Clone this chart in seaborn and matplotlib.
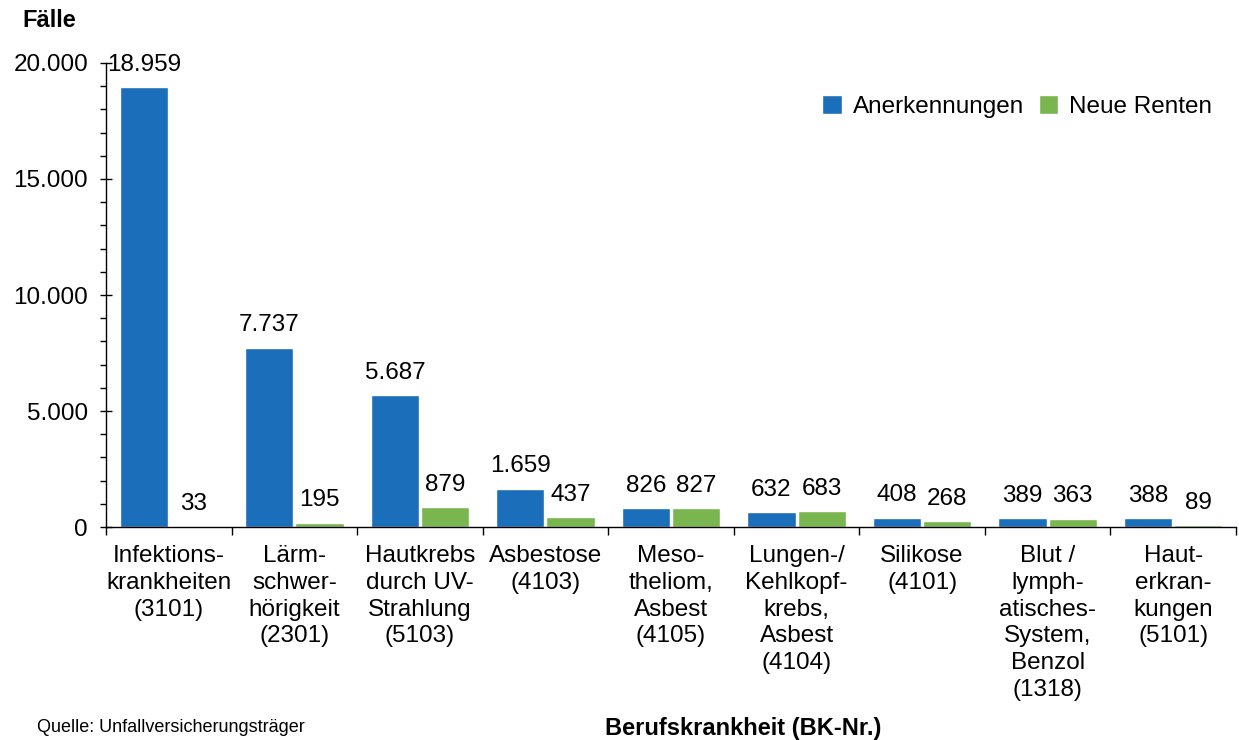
import pandas as pd
import numpy as np
import seaborn as sns
import matplotlib.pyplot as plt
from matplotlib.ticker import MultipleLocator, FixedLocator, FuncFormatter

CATEGORIES = [
    "Infektions-\nkrankheiten\n(3101)",
    "Lärm-\nschwer-\nhörigkeit\n(2301)",
    "Hautkrebs\ndurch UV-\nStrahlung\n(5103)",
    "Asbestose\n(4103)",
    "Meso-\ntheliom,\nAsbest\n(4105)",
    "Lungen-/\nKehlkopf-\nkrebs,\nAsbest\n(4104)",
    "Silikose\n(4101)",
    "Blut /\nlymph-\natisches-\nSystem,\nBenzol\n(1318)",
    "Haut-\nerkran-\nkungen\n(5101)",
]
ANERKENNUNGEN = [18959, 7737, 5687, 1659, 826, 632, 408, 389, 388]
NEUE_RENTEN = [33, 195, 879, 437, 827, 683, 268, 363, 89]
SERIES = ["Anerkennungen", "Neue Renten"]
COLORS = ["#1b6eb9", "#7ab650"]

FS = 17.5


def de_format(v):
    return f"{int(round(v)):,}".replace(",", ".")


def main():
    df = pd.DataFrame({
        "Kategorie": CATEGORIES * 2,
        "Serie": [SERIES[0]] * len(CATEGORIES) + [SERIES[1]] * len(CATEGORIES),
        "Fälle": ANERKENNUNGEN + NEUE_RENTEN,
    })

    sns.set_style("white")
    plt.rcParams["font.family"] = ["Liberation Sans", "DejaVu Sans"]
    for key in ["text.color", "axes.labelcolor", "xtick.color", "ytick.color"]:
        plt.rcParams[key] = "black"

    fig = plt.figure(figsize=(12.39, 7.40), dpi=100)
    ax = fig.add_axes([0.0856, 0.2878, 0.9976 - 0.0856, 0.9149 - 0.2878])

    sns.barplot(data=df, x="Kategorie", y="Fälle", hue="Serie",
                palette=COLORS, width=0.8, gap=0.04, saturation=1,
                ax=ax, errorbar=None)

    for cont in ax.containers:
        ax.bar_label(cont, labels=[de_format(b.get_height()) for b in cont],
                     padding=8, fontsize=FS)

    ax.set_xlim(-0.5, len(CATEGORIES) - 0.5)
    ax.set_ylim(0, 20000)
    ax.yaxis.set_major_locator(MultipleLocator(5000))
    ax.yaxis.set_minor_locator(MultipleLocator(1000))
    ax.yaxis.set_major_formatter(FuncFormatter(lambda v, p: de_format(v)))

    ax.xaxis.set_minor_locator(FixedLocator(np.arange(-0.5, len(CATEGORIES), 1.0)))
    ax.tick_params(axis="x", which="major", length=0, pad=13, labelsize=FS)
    ax.tick_params(axis="x", which="minor", length=6, width=1, direction="out",
                   color="black", bottom=True)
    ax.tick_params(axis="y", which="major", length=9, width=1, direction="inout",
                   color="black", left=True, labelsize=FS, pad=8.5)
    ax.tick_params(axis="y", which="minor", length=4, width=1, direction="out",
                   color="black", left=True)
    for lbl in ax.get_xticklabels():
        lbl.set_linespacing(1.28)
        lbl.set_verticalalignment("top")

    sns.despine(ax=ax)
    for s in ["left", "bottom"]:
        ax.spines[s].set_color("black")
        ax.spines[s].set_linewidth(1)

    ax.set_xlabel("")
    ax.set_ylabel("")

    ax.legend(loc="upper right", bbox_to_anchor=(0.998, 0.978), ncol=2,
              frameon=False, fontsize=FS, handlelength=0.8, handleheight=0.8,
              handletextpad=0.45, columnspacing=0.6)

    fig.text(0.018, 0.972, "Fälle", fontsize=17, fontweight="bold",
             ha="left", va="center")
    fig.text(0.6, 0.0, "Berufskrankheit (BK-Nr.)", fontsize=17, fontweight="bold",
             ha="center", va="bottom")
    fig.text(0.03, 0.005, "Quelle: Unfallversicherungsträger", fontsize=13,
             ha="left", va="bottom")

    fig.savefig("out.png", dpi=100)


if __name__ == "__main__":
    main()
